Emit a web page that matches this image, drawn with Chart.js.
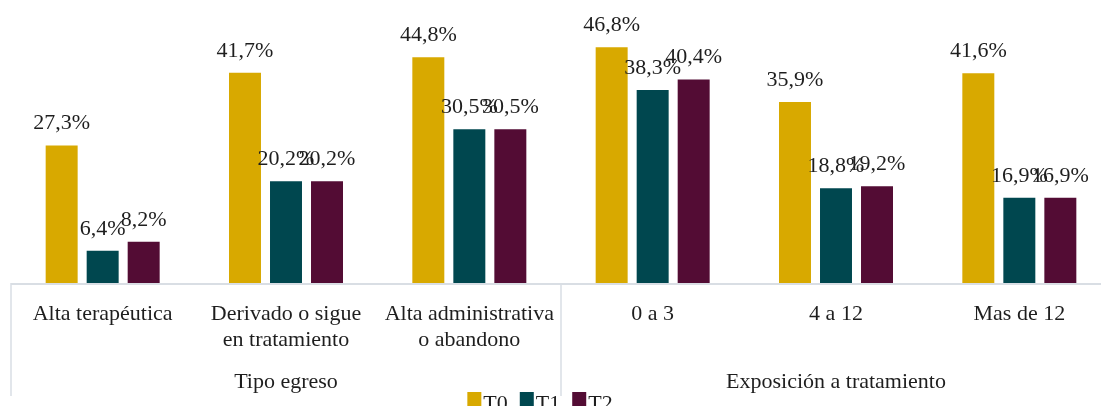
<!DOCTYPE html>
<html lang="es">
<head>
  <meta charset="UTF-8">
  <title>Egreso y exposición a tratamiento</title>
  <script src="https://cdn.jsdelivr.net/npm/chart.js"></script>
  <style>
    html, body {
      margin: 0;
      padding: 0;
      background: #ffffff;
      overflow: hidden;
    }
    .chart-box {
      position: relative;
      width: 1112px;
      height: 406px;
    }
  </style>
</head>
<body>
  <div class="chart-box">
    <canvas id="egresoChart"></canvas>
  </div>

  <script>
    // Data
    const categories = [
      'Alta terapéutica',
      ['Derivado o sigue', 'en tratamiento'],
      ['Alta administrativa', 'o abandono'],
      '0 a 3',
      '4 a 12',
      'Mas de 12'
    ];
    const groupLabels = ['Tipo egreso', 'Exposición a tratamiento'];
    const groupSizes = [3, 3];

    const seriesNames = ['T0', 'T1', 'T2'];
    const t0Values = [27.3, 41.7, 44.8, 46.8, 35.9, 41.6];
    const t1Values = [6.4, 20.2, 30.5, 38.3, 18.8, 16.9];
    const t2Values = [8.2, 20.2, 30.5, 40.4, 19.2, 16.9];
    const seriesColors = ['#D8A900', '#00474F', '#530C34'];

    const FONT = '"Liberation Serif", "DejaVu Serif", serif';
    const TEXT = '#1e1e1e';
    const LINE = '#D9DEE4';

    const fmt = v => v.toFixed(1).replace('.', ',') + '%';

    // Labels, axis line, group separators and legend
    const extrasPlugin = {
      id: 'extras',
      afterDraw(chart) {
        const ctx = chart.ctx;
        const x = chart.scales.x;
        const area = chart.chartArea;
        const half = (x.getPixelForValue(1) - x.getPixelForValue(0)) / 2;
        ctx.save();

        // value labels above bars
        ctx.font = '22px ' + FONT;
        ctx.fillStyle = TEXT;
        ctx.textAlign = 'center';
        ctx.textBaseline = 'alphabetic';
        chart.data.datasets.forEach((ds, di) => {
          chart.getDatasetMeta(di).data.forEach((bar, i) => {
            ctx.fillText(fmt(ds.data[i]), bar.x, bar.y - 16);
          });
        });

        // axis line
        ctx.strokeStyle = LINE;
        ctx.lineWidth = 2;
        ctx.beginPath();
        ctx.moveTo(x.left, area.bottom + 1);
        ctx.lineTo(x.right, area.bottom + 1);
        ctx.stroke();

        // group separators and group titles
        ctx.lineWidth = 1.5;
        let start = 0;
        groupSizes.forEach((size, gi) => {
          const left = x.getPixelForValue(start) - half;
          const right = x.getPixelForValue(start + size - 1) + half;
          ctx.beginPath();
          ctx.moveTo(left, area.bottom);
          ctx.lineTo(left, 396);
          ctx.stroke();
          ctx.textBaseline = 'middle';
          ctx.fillText(groupLabels[gi], (left + right) / 2, 382);
          start += size;
        });

        // legend
        ctx.textAlign = 'left';
        ctx.textBaseline = 'alphabetic';
        const box = 14, gapText = 2, gapItem = 12;
        const widths = seriesNames.map(n => box + gapText + ctx.measureText(n).width);
        const total = widths.reduce((a, b) => a + b, 0) + gapItem * (seriesNames.length - 1);
        let lx = 540 - total / 2;
        seriesNames.forEach((n, i) => {
          ctx.fillStyle = seriesColors[i];
          ctx.fillRect(lx, 392, box, box);
          ctx.fillStyle = TEXT;
          ctx.fillText(n, lx + box + gapText, 410);
          lx += widths[i] + gapItem;
        });

        ctx.restore();
      }
    };

    new Chart(document.getElementById('egresoChart'), {
      type: 'bar',
      data: {
        labels: categories,
        datasets: [
          { label: seriesNames[0], data: t0Values, backgroundColor: seriesColors[0] },
          { label: seriesNames[1], data: t1Values, backgroundColor: seriesColors[1] },
          { label: seriesNames[2], data: t2Values, backgroundColor: seriesColors[2] }
        ]
      },
      options: {
        responsive: true,
        maintainAspectRatio: false,
        animation: false,
        categoryPercentage: 0.671,
        barPercentage: 0.78,
        layout: { padding: { top: 31, left: 11, right: 1, bottom: 0 } },
        plugins: {
          legend: { display: false },
          tooltip: { enabled: false }
        },
        scales: {
          y: { display: false, min: 0, max: 50 },
          x: {
            grid: { display: false, drawTicks: false },
            border: { display: false },
            ticks: {
              color: TEXT,
              font: { family: FONT, size: 22, lineHeight: 1.18 },
              padding: 18,
              maxRotation: 0,
              autoSkip: false
            },
            afterFit(scale) { scale.height = 123; }
          }
        }
      },
      plugins: [extrasPlugin]
    });
  </script>
</body>
</html>
